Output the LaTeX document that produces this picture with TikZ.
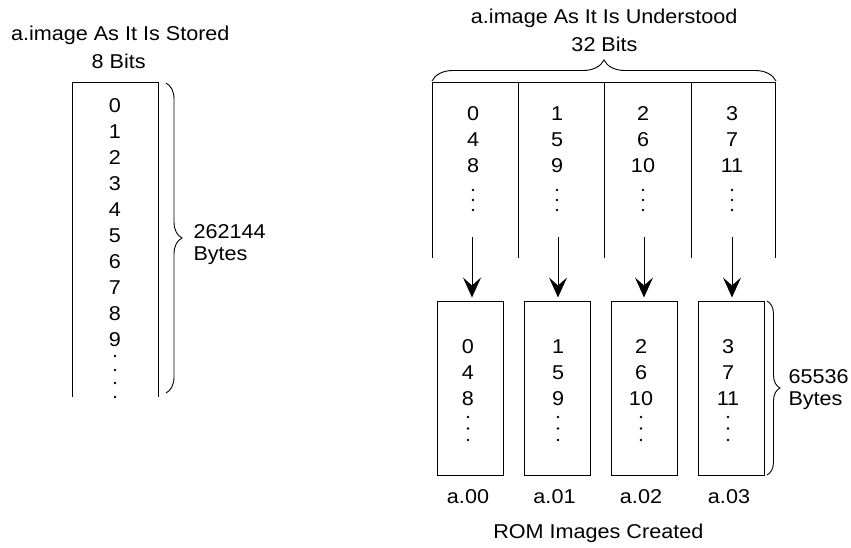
\documentclass[tikz,border=0pt]{standalone}
\usepackage{fontspec}
\setmainfont{Liberation Sans}[FakeStretch=1.08]
\usetikzlibrary{decorations.pathreplacing,arrows.meta}
\begin{document}
\begin{tikzpicture}[x=1pt,y=-1pt, line width=1pt,
  txt/.style={inner sep=0pt, anchor=base, font=\fontsize{20}{24}\selectfont},
  txtw/.style={txt, anchor=base west},
  bracepath/.style={decorate, decoration={brace, amplitude=#1}, line width=0.9pt},
  romstyle/.style={draw, minimum width=66pt, minimum height=174pt, inner sep=0pt},
  flow/.style={-{Stealth[length=20pt,width=18pt,inset=8pt]}, shorten >=3pt},
  dotmark/.style={circle, fill, inner sep=0pt, minimum size=2.6pt}
]
\useasboundingbox (0,0) rectangle (851,548);

% ---------- left: as stored ----------
\node[txtw] (ltitle) at (10.5,41) {a.image As It Is Stored};
\node[txt] (lbits) at (118.7,69) {8 Bits};
\coordinate (lbl) at (72,397);
\coordinate (ltl) at (72,83);
\coordinate (ltr) at (158,83);
\coordinate (lbr) at (158,397);
\draw (lbl) -- (ltl) -- (ltr) -- (lbr);
\foreach \d in {0,...,9}
  \node[txt] (L\d) at (115,112.7+26*\d) {\d};
\foreach \y [count=\i] in {356,370,383,397}
  \node[dotmark] (Ld\i) at (115,\y) {};
\coordinate (lbrtop) at (166,83);
\coordinate (lbrbot) at (166,393);
\draw[bracepath=16pt] (lbrtop) -- (lbrbot);
\node[txtw] (lbytes1) at (193,238) {262144};
\node[txtw] (lbytes2) at (193,260) {Bytes};

% ---------- right: as understood ----------
\node[txt] (rtitle) at (604.2,24) {a.image As It Is Understood};
\node[txt] (rbits) at (604.5,52) {32 Bits};
\coordinate (tbl) at (432,81);
\coordinate (tbr) at (776,81);
\draw[bracepath=21pt] (tbl) -- (tbr);

\coordinate (c0b) at (432,258);
\coordinate (c0t) at (432,83);
\coordinate (c4t) at (775,83);
\coordinate (c4b) at (775,258);
\draw (c0b) -- (c0t) -- (c4t) -- (c4b);
\foreach \x [count=\i] in {518,604,691} {
  \coordinate (s\i t) at (\x,83);
  \coordinate (s\i b) at (\x,258);
  \draw (s\i t) -- (s\i b);
}

\foreach \x/\a/\b/\c [count=\i from 0] in {473/0/4/8, 557/1/5/9, 643/2/6/10, 732/3/7/11} {
  \node[txt] (u\i a) at (\x,121) {\a};
  \node[txt] (u\i b) at (\x,147) {\b};
  \node[txt] (u\i c) at (\x,173) {\c};
  \foreach \y [count=\j] in {190,200,210}
    \node[dotmark] (ud\i-\j) at (\x,\y) {};
}

% ---------- ROM images ----------
\foreach \bx/\ax/\tx/\lx/\a/\b/\c/\lab [count=\i from 0] in
  {470/472/468/468/0/4/8/a.00, 557/558/558/554.5/1/5/9/a.01,
   644/644/641/641/2/6/10/a.02, 731/732/728/729/3/7/11/a.03} {
  \node[romstyle] (b\i) at (\bx,388) {};
  \coordinate (a\i) at (\ax,237);
  \draw[flow] (a\i) -- (a\i |- b\i.north);
  \node[txt] (r\i a) at (\tx,353) {\a};
  \node[txt] (r\i b) at (\tx,379) {\b};
  \node[txt] (r\i c) at (\tx,405) {\c};
  \foreach \y [count=\j] in {417,428.5,440}
    \node[dotmark] (rd\i-\j) at (\tx,\y) {};
  \node[txt] (lab\i) at (\lx,503) {\lab};
}
\node[txt] (romcap) at (598.3,538.3) {ROM Images Created};

\coordinate (rbrtop) at (767,301);
\coordinate (rbrbot) at (767,475);
\draw[bracepath=13pt] (rbrtop) -- (rbrbot);
\node[txtw] (rbytes1) at (788,383) {65536};
\node[txtw] (rbytes2) at (788,405) {Bytes};
\end{tikzpicture}
\end{document}
